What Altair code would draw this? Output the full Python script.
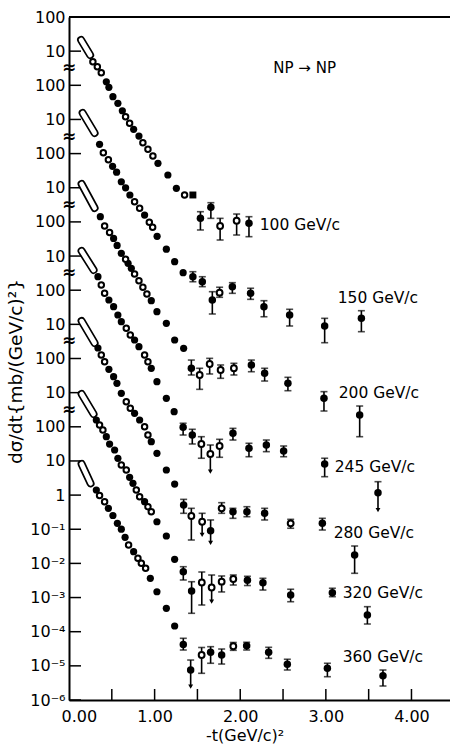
import altair as alt
import pandas as pd

FONT = "DejaVu Sans"

# Beam momenta (GeV/c) and the vertical offset (in decades) used in the figure
MOMENTA = [100, 150, 200, 245, 280, 320, 360]
OFFSET_DECADES = [12, 10, 8, 6, 4, 2, 0]

# ---------------- 100 GeV/c ----------------
P100_BAND_T = [0.141, 0.247]
P100_BAND_V = [21.2, 7.7]
P100_T = [0.279, 0.331, 0.377, 0.436, 0.466, 0.513, 0.571, 0.623, 0.661, 0.708,
          0.755, 0.817, 0.863, 0.922, 0.980, 1.039, 1.155, 1.254, 1.350, 1.447]
P100_V = [4.91, 3.51, 2.34, 1.27, 0.873, 0.464, 0.297, 0.180, 0.1205, 0.0771,
          0.0515, 0.0327, 0.0208, 0.01337, 0.00851, 0.0052, 0.00236, 0.000964, 0.000614, 0.000614]
P100_K = "ooofffffooffooofffos"
P100_ET = [1.535, 1.657, 1.765, 1.958, 2.102]
P100_EV = [1.27e-4, 2.68e-4, 7.59e-5, 1.08e-4, 9.1e-5]
P100_EHI = [1.99e-4, 3.65e-4, 1.27e-4, 1.70e-4, 1.42e-4]
P100_ELO = [5.8e-5, 1.27e-4, 2.95e-5, 4.13e-5, 3.69e-5]
P100_EK = ["f", "f", "o", "o", "f"]

# ---------------- 150 GeV/c ----------------
P150_BAND_T = [0.159, 0.299]
P150_BAND_V = [15.5, 4.01]
P150_T = [0.357, 0.401, 0.460, 0.509, 0.556, 0.611, 0.661, 0.711, 0.766, 0.825,
          0.883, 0.938, 0.977, 1.029, 1.137, 1.234, 1.333]
P150_V = [1.87, 1.06, 0.662, 0.425, 0.285, 0.150, 0.0998, 0.0614, 0.0391, 0.0250,
          0.0159, 0.0098, 0.0070, 0.00378, 0.00159, 6.84e-4, 3.25e-4]
P150_K = "foofffffoofooffff"
P150_ET = [1.447, 1.557, 1.674, 1.759, 1.908, 2.121, 2.277, 2.577, 2.986, 3.415]
P150_EV = [2.48e-4, 1.77e-4, 5.16e-5, 8.45e-5, 1.27e-4, 8.1e-5, 3.29e-5, 1.88e-5, 8.95e-6, 1.50e-5]
P150_EHI = [3.48e-4, 2.48e-4, 9.05e-5, 1.22e-4, 1.66e-4, 1.14e-4, 4.93e-5, 2.76e-5, 1.50e-5, 2.51e-5]
P150_ELO = [1.77e-4, 1.27e-4, 2.01e-5, 6.2e-5, 8.1e-5, 5.4e-5, 1.67e-5, 8.95e-6, 2.90e-6, 6.1e-6]
P150_EK = ["f", "f", "f", "o", "f", "f", "f", "f", "f", "f"]

# ---------------- 200 GeV/c ----------------
P200_BAND_T = [0.147, 0.299]
P200_BAND_V = [12.9, 2.55]
P200_T = [0.366, 0.416, 0.474, 0.521, 0.562, 0.611, 0.661, 0.690, 0.728, 0.766,
          0.817, 0.863, 0.910, 0.961, 1.027, 1.137, 1.234, 1.339]
P200_V = [1.42, 0.759, 0.490, 0.327, 0.204, 0.1205, 0.0803, 0.0614, 0.0438, 0.0298,
          0.0190, 0.0122, 0.00774, 0.00493, 0.00235, 0.00107, 3.48e-4, 1.99e-4]
P200_K = "foofffoffoooofffff"
P200_ET = [1.429, 1.526, 1.643, 1.771, 1.926, 2.130, 2.285, 2.557, 2.978, 3.395]
P200_EV = [5.17e-5, 3.29e-5, 6.9e-5, 4.6e-5, 5.17e-5, 6.46e-5, 3.69e-5, 1.88e-5, 6.83e-6, 2.22e-6]
P200_EHI = [9.0e-5, 5.17e-5, 1.01e-4, 6.46e-5, 7.23e-5, 9.0e-5, 5.17e-5, 2.81e-5, 1.07e-5, 4.06e-6]
P200_ELO = [3.29e-5, 1.25e-5, 3.52e-5, 2.63e-5, 3.29e-5, 4.1e-5, 2.19e-5, 1.14e-5, 2.90e-6, 5.13e-7]
P200_EK = ["f", "o", "o", "o", "o", "f", "f", "f", "f", "f"]

# ---------------- 245 GeV/c ----------------
P245_BAND_T = [0.147, 0.287]
P245_BAND_V = [14.1, 3.91]
P245_T = [0.338, 0.377, 0.416, 0.466, 0.521, 0.571, 0.611, 0.669, 0.716, 0.766,
          0.817, 0.883, 0.922, 0.961, 1.027, 1.137, 1.228]
P245_V = [2.48, 1.42, 0.811, 0.516, 0.329, 0.188, 0.1197, 0.0766, 0.0488, 0.0348,
          0.0222, 0.01266, 0.00806, 0.00517, 0.00209, 6.83e-4, 2.77e-4]
P245_K = "fooffffooffooffff"
P245_ET = [1.333, 1.440, 1.546, 1.651, 1.759, 1.915, 2.102, 2.305, 2.507, 2.986, 3.609]
P245_EV = [9.67e-5, 5.75e-5, 3.14e-5, 1.60e-5, 2.74e-5, 6.45e-5, 2.35e-5, 2.93e-5, 1.95e-5, 8.14e-6, 1.18e-6]
P245_EHI = [1.27e-4, 8.45e-5, 5.13e-5, 2.93e-5, 4.3e-5, 9.0e-5, 3.29e-5, 4.1e-5, 2.74e-5, 1.20e-5, 2.47e-6]
P245_ELO = [5.75e-5, 3.14e-5, 1.20e-5, 4.84e-6, 1.28e-5, 4.1e-5, 1.33e-5, 1.87e-5, 1.33e-5, 3.46e-6, 3.66e-7]
P245_EK = ["f", "f", "o", "oa", "o", "f", "f", "f", "f", "f", "fa"]

# ---------------- 280 GeV/c ----------------
P280_BAND_T = [0.147, 0.299]
P280_BAND_V = [12.5, 2.84]
P280_T = [0.338, 0.377, 0.416, 0.466, 0.521, 0.560, 0.611, 0.669, 0.716, 0.766,
          0.825, 0.883, 0.922, 0.961, 1.027, 1.137, 1.234]
P280_V = [2.03, 1.27, 0.806, 0.483, 0.293, 0.188, 0.0957, 0.0543, 0.0348, 0.0248,
          0.0158, 0.01007, 0.00575, 0.00366, 0.00167, 5.43e-4, 2.11e-4]
P280_K = "fooffffooffooffff"
P280_ET = [1.339, 1.429, 1.555, 1.654, 1.783, 1.915, 2.078, 2.285, 2.589, 2.959, 3.336]
P280_EV = [5.13e-5, 2.44e-5, 1.66e-5, 9.07e-6, 4.1e-5, 3.27e-5, 3.27e-5, 2.93e-5, 1.49e-5, 1.49e-5, 1.76e-6]
P280_EHI = [7.5e-5, 4.1e-5, 2.93e-5, 1.87e-5, 6.0e-5, 4.1e-5, 4.57e-5, 4.1e-5, 1.95e-5, 2.09e-5, 3.23e-6]
P280_ELO = [2.93e-5, 4.84e-6, 6.8e-6, 4.0e-6, 2.93e-5, 2.09e-5, 2.33e-5, 1.87e-5, 1.07e-5, 9.5e-6, 5.13e-7]
P280_EK = ["f", "o", "oa", "fa", "o", "f", "f", "f", "o", "f", "f"]

# ---------------- 320 GeV/c ----------------
P320_BAND_T = [0.147, 0.287]
P320_BAND_V = [9.12, 2.37]
P320_T = [0.319, 0.357, 0.396, 0.436, 0.474, 0.533, 0.571, 0.611, 0.669, 0.708,
          0.747, 0.786, 0.825, 0.883, 0.922, 0.961, 1.027, 1.137, 1.234]
P320_V = [1.58, 1.13, 0.806, 0.513, 0.313, 0.209, 0.1197, 0.0761, 0.0543, 0.0332,
          0.0222, 0.0141, 0.00898, 0.00641, 0.00457, 0.00327, 0.00166, 6.34e-4, 1.32e-4]
P320_K = "fooffffooffoofoofff"
P320_ET = [1.335, 1.432, 1.551, 1.666, 1.783, 1.919, 2.084, 2.265, 2.589, 3.076, 3.485]
P320_EV = [5.71e-5, 1.56e-5, 2.76e-5, 1.97e-5, 2.91e-5, 3.49e-5, 3.20e-5, 2.72e-5, 1.19e-5, 1.39e-5, 3.08e-6]
P320_EHI = [8.0e-5, 2.91e-5, 5.6e-5, 4.57e-5, 4.28e-5, 4.57e-5, 4.19e-5, 3.66e-5, 1.75e-5, 1.87e-5, 5.40e-6]
P320_ELO = [3.27e-5, 3.46e-6, 6.05e-6, 7.55e-6, 1.46e-5, 2.33e-5, 2.25e-5, 1.66e-5, 7.55e-6, 1.06e-5, 1.68e-6]
P320_EK = ["f", "f", "o", "oa", "o", "o", "f", "f", "f", "f", "f"]

# ---------------- 360 GeV/c ----------------
P360_BAND_T = [0.147, 0.252]
P360_BAND_V = [8.14, 2.2]
P360_T = [0.319, 0.357, 0.416, 0.460, 0.513, 0.565, 0.611, 0.655, 0.696, 0.755,
          0.805, 0.845, 0.895, 0.950, 1.027, 1.137, 1.234]
P360_V = [1.41, 0.973, 0.641, 0.410, 0.253, 0.149, 0.1003, 0.0581, 0.0346, 0.0220,
          0.0141, 0.01007, 0.00719, 0.00366, 0.00148, 4.84e-4, 1.47e-4]
P360_K = "foofffffofoooffff"
P360_ET = [1.335, 1.421, 1.549, 1.654, 1.783, 1.919, 2.075, 2.332, 2.550, 3.018, 3.667]
P360_EV = [4.22e-5, 7.56e-6, 2.08e-5, 2.51e-5, 2.08e-5, 3.74e-5, 3.87e-5, 2.49e-5, 1.11e-5, 8.47e-6, 5.15e-6]
P360_EHI = [6.41e-5, 1.48e-5, 3.45e-5, 3.64e-5, 3.11e-5, 4.83e-5, 4.9e-5, 3.49e-5, 1.56e-5, 1.19e-5, 7.56e-6]
P360_ELO = [2.91e-5, 2.45e-6, 6.05e-6, 1.19e-5, 1.13e-5, 2.85e-5, 2.91e-5, 1.66e-5, 7.56e-6, 4.81e-6, 2.57e-6]
P360_EK = ["f", "fa", "o", "f", "f", "o", "f", "f", "f", "f", "f"]

# ---------------- text ----------------
SERIES_LABELS = ["100  GeV/c", "150 GeV/c", "200 GeV/c", "245 GeV/c", "280 GeV/c", "320 GeV/c", "360 GeV/c"]
LABEL_T = [2.227, 3.138, 3.150, 3.103, 3.091, 3.196, 3.196]
LABEL_EXP = [7.909, 5.772, 2.990, 0.823, -1.110, -2.867, -4.741]
REACTION = "NP → NP"
REACTION_T = 2.752
REACTION_EXP = 12.507

X_TITLE = "-t(GeV/c)²"
Y_TITLE = "dσ/dt{mb/(GeV/c)²}"
X_LABEL_VALUES = [0, 1, 2, 3, 4]
X_TICK_VALUES = [0.5, 1.0, 1.5, 2.0, 2.5, 3.0, 3.5, 4.0]
Y_TICK_EXPS = list(range(-6, 15))
Y_TICK_LABELS = ["10⁻⁶", "10⁻⁵", "10⁻⁴", "10⁻³", "10⁻²", "10⁻¹", "1", "10",
                 "100", "10", "100", "10", "100", "10", "100", "10", "100", "10", "100", "10", "100"]
BREAK_EXPS = [2.5, 4.5, 6.5, 8.5, 10.5, 12.5]

SERIES = [
    (100, 12, P100_BAND_T, P100_BAND_V, P100_T, P100_V, P100_K, P100_ET, P100_EV, P100_EHI, P100_ELO, P100_EK),
    (150, 10, P150_BAND_T, P150_BAND_V, P150_T, P150_V, P150_K, P150_ET, P150_EV, P150_EHI, P150_ELO, P150_EK),
    (200, 8, P200_BAND_T, P200_BAND_V, P200_T, P200_V, P200_K, P200_ET, P200_EV, P200_EHI, P200_ELO, P200_EK),
    (245, 6, P245_BAND_T, P245_BAND_V, P245_T, P245_V, P245_K, P245_ET, P245_EV, P245_EHI, P245_ELO, P245_EK),
    (280, 4, P280_BAND_T, P280_BAND_V, P280_T, P280_V, P280_K, P280_ET, P280_EV, P280_EHI, P280_ELO, P280_EK),
    (320, 2, P320_BAND_T, P320_BAND_V, P320_T, P320_V, P320_K, P320_ET, P320_EV, P320_EHI, P320_ELO, P320_EK),
    (360, 0, P360_BAND_T, P360_BAND_V, P360_T, P360_V, P360_K, P360_ET, P360_EV, P360_EHI, P360_ELO, P360_EK),
]

band_rows, pt_rows, err_rows = [], [], []
for p, off, bt, bv, tt, vv, kk, et, ev, ehi, elo, ek in SERIES:
    f = 10.0 ** off
    for t, v in zip(bt, bv):
        band_rows.append({"p": p, "t": t, "y": v * f})
    for t, v, k in zip(tt, vv, kk):
        pt_rows.append({"p": p, "t": t, "y": v * f, "kind": k})
    for t, v, hi, lo, k in zip(et, ev, ehi, elo, ek):
        err_rows.append({"p": p, "t": t, "y": v * f, "hi": hi * f, "lo": lo * f,
                         "kind": k[0], "lim": len(k) > 1})

band_df = pd.DataFrame(band_rows)
pt_df = pd.DataFrame(pt_rows)
err_df = pd.DataFrame(err_rows)
lab_df = pd.DataFrame({"t": LABEL_T, "y": [10.0 ** e for e in LABEL_EXP], "text": SERIES_LABELS})
react_df = pd.DataFrame({"t": [REACTION_T], "y": [10.0 ** REACTION_EXP], "text": [REACTION]})
ytick_df = pd.DataFrame({"y": [10.0 ** e for e in Y_TICK_EXPS]})
xtick_df = pd.DataFrame({"t": X_TICK_VALUES})
brk_df = pd.DataFrame({"t": [0.0] * len(BREAK_EXPS), "y": [10.0 ** e for e in BREAK_EXPS]})
one_df = pd.DataFrame({"a": [0]})

W, H = 381, 683
XS = alt.Scale(domain=[0, 4.45], nice=False, zero=False)
YS = alt.Scale(type="log", domain=[1e-6, 1e14], nice=False)

label_expr = "[" + ",".join("'" + s + "'" for s in Y_TICK_LABELS) + "][round(log(datum.value)/LN10)+6]"

XA = alt.Axis(values=X_LABEL_VALUES, format=".2f", ticks=False, grid=False,
              domainWidth=2, domainColor="black", labelFont=FONT, labelFontSize=16,
              labelColor="black", labelPadding=8, labelFlush=True, labelFlushOffset=8,
              title=X_TITLE, titleFont=FONT, titleFontSize=16, titleFontWeight="normal",
              titleColor="black", titleX=175.6, titleY=35, titleAlign="center",
              titleBaseline="middle")
YA = alt.Axis(values=[10.0 ** e for e in Y_TICK_EXPS], labelExpr=label_expr, ticks=False,
              grid=False, domainWidth=2, domainColor="black", labelFont=FONT,
              labelFontSize=16, labelColor="black", labelPadding=4, labelOverlap=False,
              title=Y_TITLE, titleFont=FONT, titleFontSize=18.5, titleFontWeight="normal",
              titleColor="black", titleX=-54, titleY=354, titleAngle=270,
              titleAlign="center", titleBaseline="middle")


def X(field):
    return alt.X(field, type="quantitative", scale=XS, axis=XA)


def Y(field):
    return alt.Y(field, type="quantitative", scale=YS, axis=YA)


band_out = alt.Chart(band_df).mark_line(color="black", strokeWidth=8, strokeCap="round").encode(
    x=X("t"), y=Y("y"), detail="p:N")
band_in = alt.Chart(band_df).mark_line(color="white", strokeWidth=4.6, strokeCap="round").encode(
    x=X("t"), y=Y("y"), detail="p:N")

err_rule = alt.Chart(err_df).mark_rule(color="black", strokeWidth=1.6).encode(
    x=X("t"), y=Y("lo"), y2="hi")
cap_hi = alt.Chart(err_df).mark_tick(color="black", orient="horizontal", size=7, thickness=1.6).encode(
    x=X("t"), y=Y("hi"))
cap_lo = alt.Chart(err_df).transform_filter("!datum.lim").mark_tick(
    color="black", orient="horizontal", size=7, thickness=1.6).encode(x=X("t"), y=Y("lo"))
arrow = alt.Chart(err_df).transform_filter("datum.lim").mark_point(
    shape="triangle-down", filled=True, color="black", size=24, opacity=1).encode(x=X("t"), y=Y("lo"))

err_filled = alt.Chart(err_df).transform_filter("datum.kind == 'f'").mark_circle(
    color="black", size=56, opacity=1).encode(x=X("t"), y=Y("y"))
err_open = alt.Chart(err_df).transform_filter("datum.kind == 'o'").mark_point(
    shape="circle", fill="white", stroke="black", strokeWidth=2, size=34, opacity=1).encode(
    x=X("t"), y=Y("y"))

pt_filled = alt.Chart(pt_df).transform_filter("datum.kind == 'f'").mark_circle(
    color="black", size=52, opacity=1).encode(x=X("t"), y=Y("y"))
pt_open = alt.Chart(pt_df).transform_filter("datum.kind == 'o'").mark_point(
    shape="circle", fill="white", stroke="black", strokeWidth=2, size=30, opacity=1).encode(
    x=X("t"), y=Y("y"))
pt_square = alt.Chart(pt_df).transform_filter("datum.kind == 's'").mark_square(
    color="black", size=48, opacity=1).encode(x=X("t"), y=Y("y"))

labels = alt.Chart(lab_df).mark_text(font=FONT, fontSize=15.5, align="left", baseline="middle",
                                      color="black").encode(x=X("t"), y=Y("y"), text="text:N")
react = alt.Chart(react_df).mark_text(font=FONT, fontSize=15, align="center", baseline="middle",
                                       color="black").encode(x=X("t"), y=Y("y"), text="text:N")

ytick = alt.Chart(ytick_df).mark_rule(color="black", strokeWidth=1.5).encode(
    x=alt.value(0), x2=alt.value(12), y=Y("y"))
xtick = alt.Chart(xtick_df).mark_rule(color="black", strokeWidth=1.5).encode(
    x=X("t"), y=alt.value(H), y2=alt.value(H - 11))
top_frame = alt.Chart(one_df).mark_rule(color="black", strokeWidth=2).encode(
    x=alt.value(0), x2=alt.value(W), y=alt.value(0))
breaks = alt.Chart(brk_df).mark_text(text="≈", font=FONT, fontSize=17, fontWeight="bold",
                                      color="black", align="center", baseline="middle").encode(
    x=X("t"), y=Y("y"))

chart = alt.layer(
    top_frame, ytick, xtick, breaks,
    band_out, band_in,
    err_rule, cap_hi, cap_lo, arrow,
    pt_filled, pt_open, pt_square, err_filled, err_open,
    labels, react,
).properties(
    width=W, height=H,
    padding={"left": 69, "top": 17, "right": 0, "bottom": 46},
    autosize=alt.AutoSizeParams(type="none"),
    background="white",
).configure_view(stroke=None)

chart.save("out.html", embed_options={"renderer": "svg", "actions": False})
